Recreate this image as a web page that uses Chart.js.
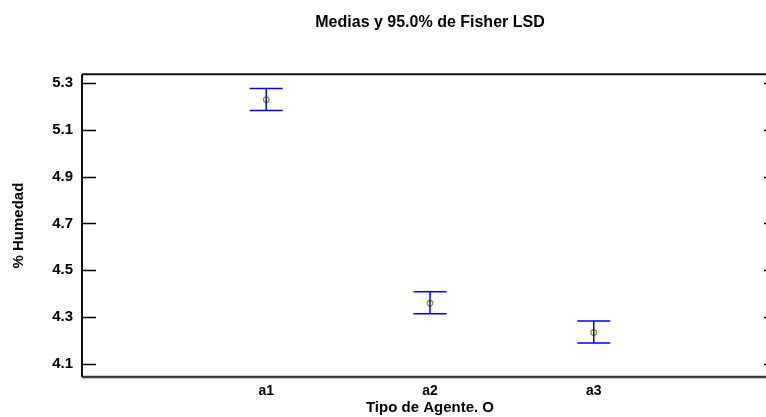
<!DOCTYPE html>
<html>
<head>
<meta charset="utf-8">
<script src="https://cdn.jsdelivr.net/npm/chart.js@4.4.0/dist/chart.umd.min.js"></script>
<style>
  html, body { margin: 0; padding: 0; background: #fff; overflow: hidden; }
  #wrap { width: 766px; height: 417px; overflow: hidden; }
</style>
</head>
<body>
<div id="wrap"><canvas id="lsdChart" width="860" height="417"></canvas></div>
<script>
// Medias y intervalos LSD
const categories = ['a1', 'a2', 'a3'];
const means = [5.229, 4.359, 4.234];
const lower = [5.183, 4.314, 4.189];
const upper = [5.277, 4.408, 4.283];
const yTicks = [4.1, 4.3, 4.5, 4.7, 4.9, 5.1, 5.3];

const FONT = "'Liberation Sans', Arial, sans-serif";

(function() {
  const ctx = document.getElementById('lsdChart').getContext('2d');

  // error bars + frame + inward ticks
  const lsdPlugin = {
    id: 'lsd',
    afterDatasetsDraw: (chart) => {
      const c = chart.ctx;
      const xs = chart.scales.x;
      const ys = chart.scales.y;
      c.save();
      c.strokeStyle = '#0000ff';
      c.lineWidth = 1.5;
      categories.forEach((cat, i) => {
        const x = xs.getPixelForValue(i + 1);
        const yl = ys.getPixelForValue(lower[i]);
        const yu = ys.getPixelForValue(upper[i]);
        const hw = 16.5;
        c.beginPath();
        c.moveTo(x, yl); c.lineTo(x, yu);
        c.moveTo(x - hw, yl); c.lineTo(x + hw, yl);
        c.moveTo(x - hw, yu); c.lineTo(x + hw, yu);
        c.stroke();
      });
      c.restore();
    },
    afterDraw: (chart) => {
      const c = chart.ctx;
      const ys = chart.scales.y;
      const a = chart.chartArea;
      c.save();
      c.strokeStyle = '#000';
      c.lineWidth = 1.5;
      yTicks.forEach(v => {
        const y = Math.round(ys.getPixelForValue(v)) + 0.5;
        c.beginPath();
        c.moveTo(a.left, y); c.lineTo(a.left + 14, y);
        c.moveTo(a.right - 14, y); c.lineTo(a.right, y);
        c.stroke();
      });
      c.lineWidth = 2;
      c.strokeStyle = '#111';
      c.beginPath();
      c.moveTo(a.left, a.top); c.lineTo(a.right, a.top);
      c.moveTo(a.left, a.top); c.lineTo(a.left, a.bottom);
      c.moveTo(a.right, a.top); c.lineTo(a.right, a.bottom);
      c.stroke();
      c.strokeStyle = '#3a3a3a';
      c.lineWidth = 2.5;
      c.beginPath();
      c.moveTo(a.left, a.bottom); c.lineTo(a.right, a.bottom);
      c.stroke();
      c.restore();
    }
  };

  new Chart(ctx, {
    type: 'scatter',
    data: {
      datasets: [{
        label: 'Medias',
        data: means.map((m, i) => ({ x: i + 1, y: m })),
        pointRadius: 2.8,
        pointBorderColor: '#9a9a00',
        pointBackgroundColor: 'rgba(0,0,0,0)',
        pointBorderWidth: 1.3
      }]
    },
    options: {
      responsive: false,
      animation: false,
      layout: { padding: { left: 0, right: 82, top: 0, bottom: 0 } },
      plugins: {
        legend: { display: false },
        tooltip: { enabled: false },
        title: {
          display: true,
          fullSize: false,
          text: 'Medias y 95.0% de Fisher LSD',
          color: '#000',
          font: { family: FONT, size: 16, weight: 'bold' },
          padding: { top: 13, bottom: 42 }
        }
      },
      scales: {
        x: {
          type: 'linear',
          min: -0.125,
          max: 4.125,
          afterBuildTicks: (scale) => {
            scale.ticks = categories.map((c, i) => ({ value: i + 1 }));
          },
          afterFit: (scale) => { scale.height = 40; },
          ticks: {
            color: '#000',
            font: { family: FONT, size: 14, weight: 'bold' },
            padding: 6,
            autoSkip: false,
            maxRotation: 0,
            callback: (v) => categories[v - 1] || ''
          },
          grid: { display: false, drawTicks: false },
          border: { display: false },
          title: {
            display: true,
            text: 'Tipo de Agente. O',
            color: '#000',
            font: { family: FONT, size: 15, weight: 'bold' },
            padding: { top: 0, bottom: 0 }
          }
        },
        y: {
          min: 4.044,
          max: 5.338,
          afterBuildTicks: (scale) => {
            scale.ticks = yTicks.map(v => ({ value: v }));
          },
          afterFit: (scale) => { scale.width = 82; },
          ticks: {
            color: '#000',
            font: { family: FONT, size: 15, weight: 'bold' },
            padding: 9,
            callback: (v) => v.toFixed(1)
          },
          grid: { display: false, drawTicks: false },
          border: { display: false },
          title: {
            display: true,
            text: '% Humedad',
            color: '#000',
            font: { family: FONT, size: 15, weight: 'bold' },
            padding: { top: 10, bottom: 0 }
          }
        }
      }
    },
    plugins: [lsdPlugin]
  });
})();
</script>
</body>
</html>
